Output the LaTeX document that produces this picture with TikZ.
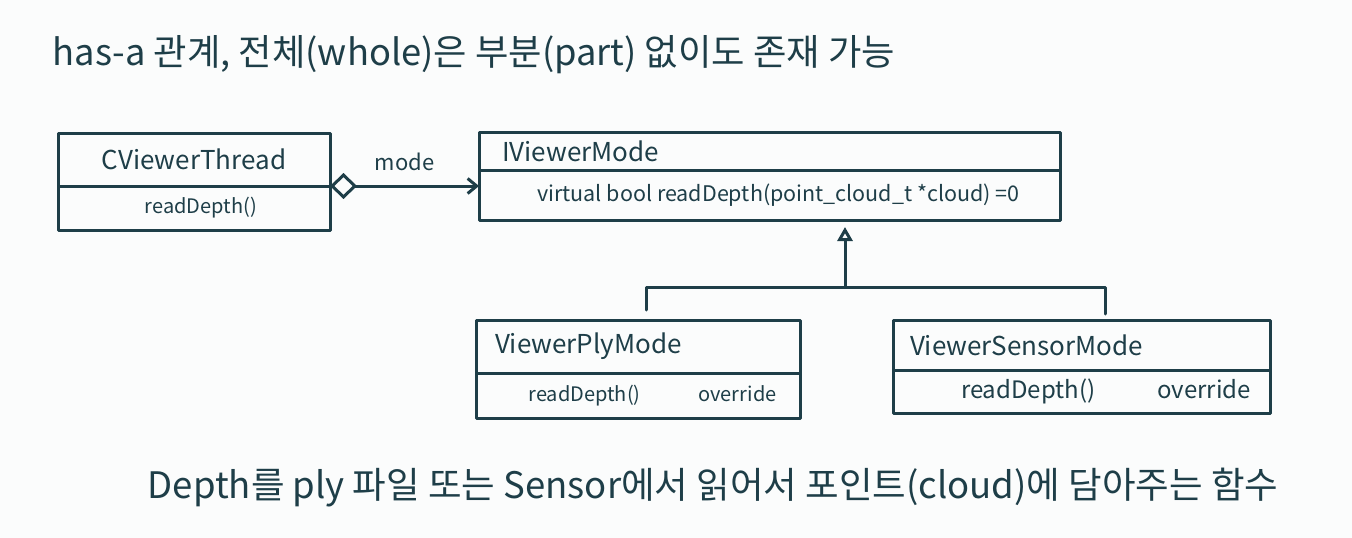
\documentclass[tikz,border=0pt]{standalone}
\usepackage{fontspec}
\newfontfamily\krfont{Noto Sans CJK KR}
\usetikzlibrary{positioning,arrows.meta}
\definecolor{ink}{RGB}{30,62,72}
\definecolor{paper}{RGB}{251,252,252}
\begin{document}
\begin{tikzpicture}[x=1pt, y=-1pt, font=\krfont, line join=round, line cap=round, ink, line width=3pt,
  head/.style={draw, rectangle, inner sep=0pt, outer sep=0pt, font=\krfont\fontsize{26}{30}\selectfont},
  body/.style={draw, rectangle, inner sep=0pt, outer sep=0pt, font=\krfont\fontsize{20}{24}\selectfont},
  agg/.style={{Diamond[open,length=27pt,width=26pt]}-{Straight Barb[length=9pt,width=15pt]}},
  inherit/.style={-{Triangle[open,length=14pt,width=15pt]}}]
\fill[paper] (0,0) rectangle (1352,538);
\node[anchor=west, font=\krfont\fontsize{36.3}{40}\selectfont] (note) at (48,55) {has-a 관계, 전체(whole)은 부분(part) 없이도 존재 가능};
\node[head, minimum width=272pt, minimum height=53pt] (thread) at (194,159.5) {CViewerThread};
\node[body, minimum width=272pt, minimum height=44pt, below=0pt of thread] (threadbody) {\hspace*{14pt}readDepth()};
\node[head, minimum width=581pt, minimum height=38pt, text width=535pt, inner xsep=23pt, align=left] (mode) at (769.5,151) {IViewerMode};
\node[body, minimum width=581pt, minimum height=50pt, below=0pt of mode, font=\krfont\fontsize{21.5}{26}\selectfont] (modebody) {\hspace*{18pt}virtual bool readDepth(point\_cloud\_t *cloud) =0};
\node[head, minimum width=324pt, minimum height=53pt, text width=286pt, inner xsep=19pt, align=left] (ply) at (638,346.5) {ViewerPlyMode};
\node[body, minimum width=324pt, minimum height=45pt, below=0pt of ply] (plybody) {\hspace*{29pt}readDepth()\hspace{58pt}override};
\node[head, minimum width=377pt, minimum height=50pt, text width=343pt, inner xsep=17pt, align=left] (sensor) at (1081.5,345) {ViewerSensorMode};
\node[body, minimum width=377pt, minimum height=43pt, below=0pt of sensor, font=\krfont\fontsize{24}{28}\selectfont] (sensorbody) {\hspace*{49pt}readDepth()\hspace{62pt}override};
\draw[agg] (thread.south east) -- (thread.south east -| modebody.west) node[midway, above=10pt, font=\krfont\fontsize{22}{26}\selectfont] {mode};
\coordinate (hub) at (845,287);
\draw[inherit, shorten >=7pt] (hub) -- (hub |- modebody.south);
\draw[shorten <=10pt, shorten >=6pt] ([xshift=8pt]ply.north) |- (hub) -| ([xshift=23.5pt]sensor.north);
\node[anchor=west, font=\krfont\fontsize{36.5}{40}\selectfont] (caption) at (143,488) {Depth를 ply 파일 또는 Sensor에서 읽어서 포인트(cloud)에 담아주는 함수};
\end{tikzpicture}
\end{document}
